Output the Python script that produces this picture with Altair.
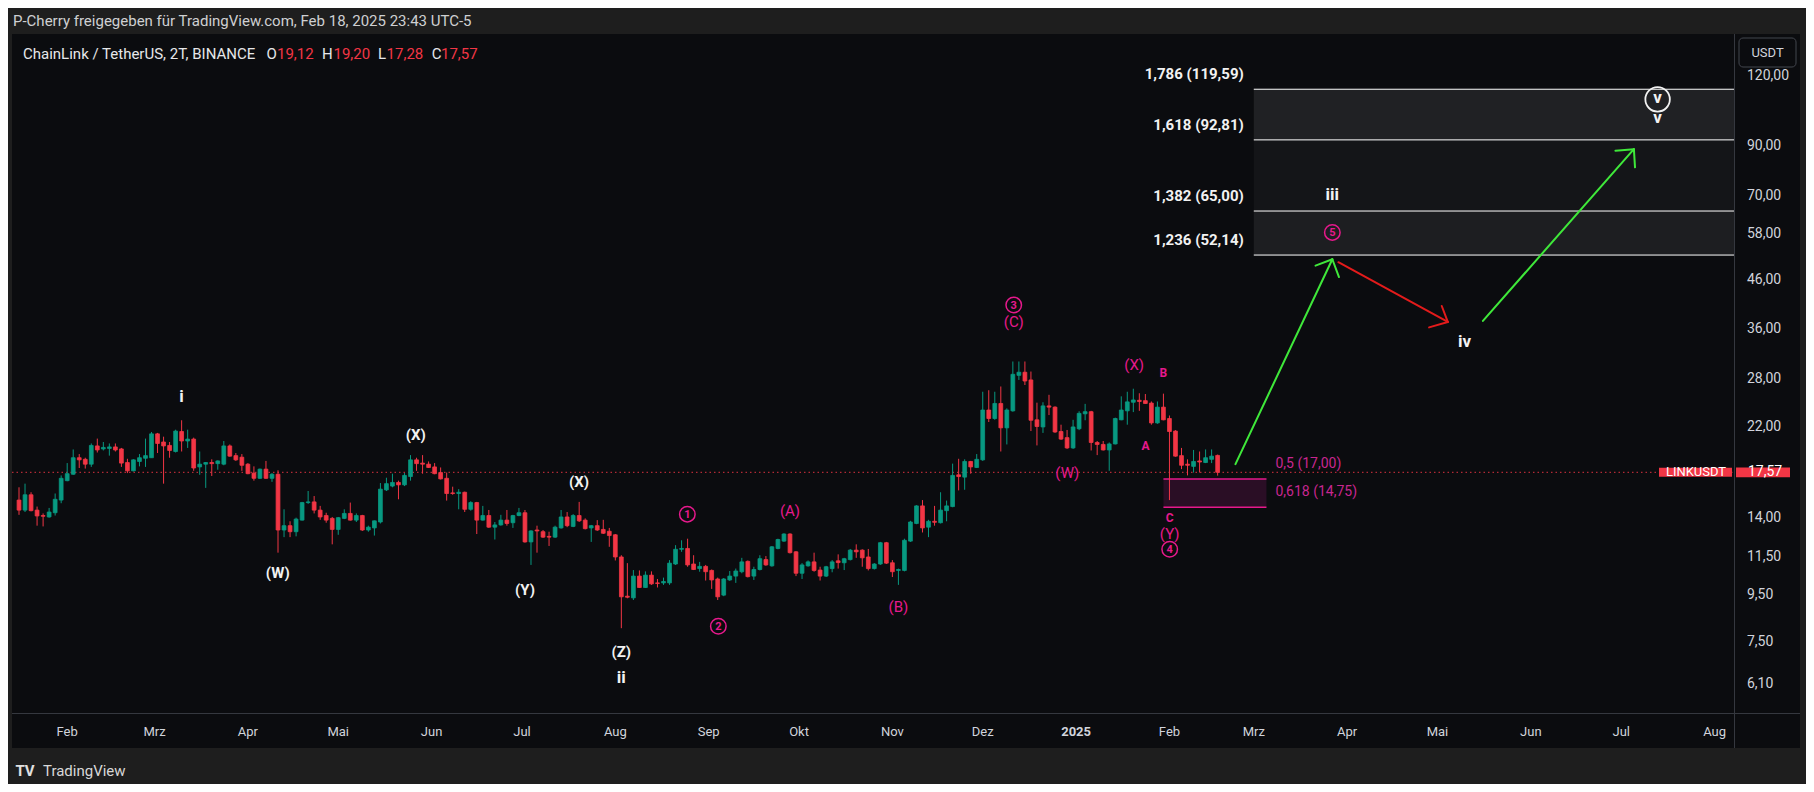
import altair as alt
import pandas as pd

# ---------------- candle data: ChainLink / TetherUS, 2-day bars ----------------
first_bar = "2024-01-16"
opens = [15.29, 14.54, 15.70, 14.54, 14.15, 14.05, 14.35, 15.29, 16.85, 17.40,
         18.90, 18.75, 18.30, 20.05, 19.75, 19.80, 19.95, 19.75, 18.45, 17.70,
         18.55, 18.85, 18.90, 21.30, 20.45, 20.10, 19.50, 21.55, 20.55, 20.75,
         18.05, 18.30, 18.45, 18.35, 18.30, 20.05, 19.10, 18.95, 18.30, 17.50,
         17.05, 17.85, 17.05, 17.40, 13.16, 13.45, 13.05, 13.83, 15.10, 15.15,
         14.54, 14.15, 13.95, 13.20, 13.95, 14.30, 13.83, 14.15, 13.16, 13.30,
         13.70, 16.09, 16.40, 16.70, 16.50, 17.20, 18.70, 18.40, 18.30, 18.05,
         17.55, 17.05, 15.85, 15.80, 15.90, 14.60, 15.10, 13.83, 14.15, 13.35,
         13.50, 13.83, 13.65, 14.15, 14.35, 12.40, 13.16, 13.05, 12.75, 12.70,
         13.30, 14.05, 13.40, 14.15, 13.83, 13.30, 13.45, 13.20, 13.08, 12.85,
         11.50, 9.45, 9.37, 10.45, 9.87, 10.50, 10.10, 10.10, 10.10, 11.10,
         11.95, 12.00, 11.10, 10.85, 10.97, 10.75, 10.30, 9.50, 10.25, 10.45,
         10.68, 11.25, 10.45, 10.80, 11.35, 11.00, 12.00, 12.45, 12.90, 11.80,
         10.60, 11.00, 11.22, 10.77, 10.45, 10.85, 11.28, 11.17, 11.35, 11.90,
         11.90, 11.50, 10.85, 11.10, 12.35, 11.17, 10.75, 10.75, 12.45, 13.60,
         14.85, 13.35, 13.75, 13.65, 14.50, 14.80, 17.35, 17.15, 18.55, 18.00,
         18.70, 24.00, 23.00, 24.80, 21.95, 23.90, 28.55, 29.00, 27.90, 22.85,
         22.05, 24.50, 24.35, 21.55, 20.90, 19.85, 21.85, 23.55, 23.80, 20.40,
         20.20, 19.65, 20.25, 22.85, 23.90, 24.95, 25.20, 25.15, 24.85, 22.50,
         24.35, 23.00, 21.60, 19.10, 18.30, 18.10, 18.60, 18.45, 18.75, 19.12]
highs = [16.30, 16.60, 15.90, 14.80, 14.30, 14.70, 15.80, 17.30, 18.40, 19.70,
         19.25, 18.90, 20.30, 20.80, 20.45, 20.30, 20.30, 19.85, 18.80, 18.75,
         19.25, 20.80, 21.50, 21.40, 21.00, 20.45, 21.75, 22.80, 21.75, 20.90,
         19.50, 18.50, 18.75, 18.65, 20.55, 20.20, 19.35, 19.25, 18.40, 18.10,
         17.90, 18.60, 17.50, 17.75, 14.60, 13.75, 14.00, 15.15, 16.00, 15.60,
         14.85, 14.35, 14.05, 14.05, 14.60, 15.10, 14.30, 14.20, 13.45, 13.80,
         16.65, 17.10, 17.45, 16.85, 17.50, 19.15, 18.90, 19.15, 18.55, 18.40,
         18.00, 17.55, 16.35, 16.15, 15.95, 15.20, 15.15, 14.85, 14.55, 13.70,
         14.20, 14.55, 14.20, 14.70, 14.55, 13.15, 13.45, 13.16, 13.05, 13.45,
         14.55, 14.40, 14.25, 15.15, 13.95, 13.50, 13.83, 13.85, 13.30, 12.90,
         11.60, 11.15, 10.77, 10.75, 10.70, 10.70, 10.30, 10.37, 11.32, 12.20,
         12.50, 12.60, 11.60, 11.22, 11.05, 10.80, 10.37, 10.35, 10.72, 10.85,
         11.45, 11.30, 10.95, 11.60, 11.55, 12.15, 12.60, 12.95, 12.95, 11.85,
         11.15, 11.30, 11.75, 10.95, 11.00, 11.32, 11.65, 11.45, 11.97, 12.25,
         11.95, 11.97, 11.15, 12.40, 12.40, 11.32, 10.85, 12.60, 13.78, 14.90,
         15.29, 13.85, 14.85, 15.90, 15.25, 18.35, 18.80, 18.75, 18.60, 19.25,
         26.30, 26.50, 26.30, 27.00, 24.20, 30.60, 30.60, 30.60, 29.10, 24.90,
         24.95, 25.90, 24.45, 22.30, 21.72, 22.85, 23.85, 24.75, 23.90, 20.55,
         20.55, 20.40, 23.10, 25.70, 26.30, 26.70, 26.10, 26.00, 25.05, 25.05,
         26.05, 23.35, 21.70, 19.85, 18.75, 19.65, 19.50, 19.70, 19.70, 19.20]
lows = [14.20, 14.40, 14.45, 13.45, 13.40, 14.00, 14.15, 15.05, 16.80, 17.35,
        17.95, 17.90, 18.05, 19.40, 19.60, 19.10, 19.50, 18.05, 17.50, 17.65,
        18.10, 18.05, 18.90, 19.35, 16.60, 18.90, 19.40, 19.50, 19.85, 17.70,
        17.35, 16.25, 17.25, 17.80, 18.20, 19.00, 18.60, 17.70, 17.40, 16.85,
        17.00, 17.00, 16.75, 11.75, 12.70, 12.70, 12.75, 13.80, 15.00, 14.30,
        13.85, 13.65, 12.25, 12.85, 13.90, 13.80, 13.70, 13.10, 13.05, 12.80,
        13.60, 16.00, 16.30, 15.35, 16.40, 16.85, 17.70, 17.45, 17.95, 17.40,
        16.95, 15.25, 15.70, 14.60, 14.40, 14.50, 12.90, 13.80, 13.30, 12.55,
        13.45, 13.45, 13.30, 14.10, 12.35, 11.05, 11.75, 12.65, 12.15, 12.65,
        13.25, 13.35, 13.35, 13.70, 13.20, 12.40, 13.10, 12.90, 12.10, 11.30,
        8.05, 9.35, 9.27, 9.85, 9.85, 10.00, 9.87, 10.00, 10.00, 11.05,
        11.80, 10.95, 10.77, 10.68, 10.22, 9.80, 9.27, 9.45, 10.20, 10.10,
        10.60, 10.38, 10.25, 10.75, 11.00, 10.95, 11.95, 12.40, 11.70, 10.45,
        10.30, 10.95, 10.68, 10.22, 10.40, 10.65, 10.85, 10.77, 11.30, 11.45,
        10.95, 10.75, 10.80, 11.05, 11.10, 10.40, 10.00, 10.70, 12.40, 13.55,
        13.00, 12.70, 13.45, 13.60, 13.75, 14.75, 16.05, 16.10, 17.45, 17.95,
        18.60, 22.60, 22.85, 19.50, 20.20, 23.80, 27.90, 27.20, 21.60, 20.10,
        21.40, 23.40, 21.40, 20.66, 19.75, 19.75, 21.70, 22.80, 19.60, 19.15,
        19.60, 17.70, 20.20, 22.80, 22.30, 23.75, 23.90, 24.75, 22.30, 22.40,
        22.80, 15.29, 19.00, 17.85, 17.30, 17.55, 17.55, 18.40, 18.40, 17.28]
closes = [14.54, 15.70, 14.50, 14.12, 14.10, 14.40, 15.35, 17.05, 17.45, 18.90,
          18.70, 18.30, 20.10, 19.65, 19.90, 19.95, 19.65, 18.40, 17.70, 18.70,
          18.90, 19.10, 21.30, 20.30, 20.05, 19.60, 21.60, 20.55, 20.75, 17.95,
          18.30, 18.45, 18.35, 18.60, 20.05, 19.05, 18.70, 18.20, 17.45, 17.05,
          17.85, 17.05, 17.40, 13.16, 13.45, 13.05, 13.90, 15.10, 15.15, 14.54,
          14.05, 13.83, 13.20, 14.00, 14.30, 13.83, 14.15, 13.16, 13.35, 13.78,
          16.15, 16.60, 16.70, 16.50, 17.30, 18.70, 18.35, 18.30, 18.00, 17.45,
          17.00, 15.80, 15.80, 15.90, 14.60, 15.10, 13.83, 14.15, 13.35, 13.50,
          13.83, 13.60, 14.15, 14.35, 12.40, 13.10, 13.10, 12.70, 12.70, 13.35,
          14.05, 13.45, 14.15, 13.78, 13.25, 13.45, 13.16, 12.95, 12.80, 11.50,
          9.42, 9.40, 10.45, 9.87, 10.50, 10.05, 10.07, 10.17, 11.15, 11.95,
          12.00, 11.05, 10.80, 10.97, 10.68, 10.25, 9.42, 10.30, 10.45, 10.72,
          11.22, 10.42, 10.80, 11.40, 11.05, 12.10, 12.55, 12.90, 11.75, 10.60,
          11.05, 11.22, 10.75, 10.45, 10.95, 11.22, 11.18, 11.40, 11.90, 11.80,
          11.45, 10.85, 11.10, 12.35, 11.15, 10.68, 10.80, 12.50, 13.70, 14.85,
          13.30, 13.75, 13.68, 14.54, 14.85, 17.30, 17.20, 18.55, 18.05, 18.75,
          24.00, 23.00, 24.80, 21.95, 24.00, 28.70, 29.00, 27.75, 22.80, 22.10,
          24.50, 24.35, 21.50, 20.75, 19.85, 22.05, 23.60, 23.80, 20.40, 20.20,
          19.65, 20.25, 23.00, 24.00, 25.00, 25.24, 25.05, 24.80, 22.50, 24.35,
          22.85, 21.55, 19.05, 18.20, 18.20, 18.55, 18.50, 18.90, 19.05, 17.57]

# ---------------- axis ticks ----------------
month_ticks = ["2024-02-01", "2024-03-01", "2024-04-01", "2024-05-01", "2024-06-01",
               "2024-07-01", "2024-08-01", "2024-09-01", "2024-10-01", "2024-11-01",
               "2024-12-01", "2025-01-01", "2025-02-01", "2025-03-01", "2025-04-01",
               "2025-05-01", "2025-06-01", "2025-07-01", "2025-08-01"]
month_names = ["Jan", "Feb", "Mrz", "Apr", "Mai", "Jun", "Jul", "Aug", "Sep", "Okt", "Nov", "Dez"]
price_ticks = [120, 90, 70, 58, 46, 36, 28, 22, 14, 11.5, 9.5, 7.5, 6.1]
x_domain = [(2024, 1, 15, 8), (2025, 8, 5, 19)]
y_domain = [5.265, 157.7]

# ---------------- Elliott wave labels ----------------
white_text = ["i", "(W)", "(X)", "(Y)", "(X)", "(Z)", "ii", "iii", "iv", "v"]
white_dates = ["2024-03-09T23:00", "2024-04-10T22:00", "2024-05-26T17:00", "2024-07-02T00:00",
               "2024-07-19T22:00", "2024-08-03T00:00", "2024-08-03T00:00", "2025-03-27T02:00",
               "2025-05-10T00:00", "2025-07-13T02:00"]
white_prices = [25.6, 10.6, 21.2, 9.75, 16.7, 7.13, 6.27, 70.5, 33.8, 103.4]
white_roman = [True, False, False, False, False, False, True, True, True, True]

pink_text = ["(A)", "(B)", "(C)", "(W)", "(X)", "A", "B", "C", "(Y)"]
pink_dates = ["2024-09-28T00:00", "2024-11-03T00:00", "2024-12-11T07:00", "2024-12-29T02:00",
              "2025-01-20T07:00", "2025-01-24T02:00", "2025-01-30T00:00", "2025-02-01T02:00",
              "2025-02-01T02:00"]
pink_prices = [14.50, 8.94, 37.3, 17.53, 30.05, 20.05, 28.9, 14.0, 12.93]
pink_small = [False, False, False, False, False, True, True, True, False]

circled_text = ["1", "2", "3", "4", "5"]
circled_dates = ["2024-08-24T22:00", "2024-09-04T05:00", "2024-12-11T07:00",
                 "2025-02-01T02:00", "2025-03-27T02:00"]
circled_prices = [14.25, 8.13, 40.6, 11.95, 58.4]

major_v_text = ["v"]
major_v_dates = ["2025-07-13T02:00"]
major_v_prices = [113.7]

# ---------------- Fibonacci levels ----------------
fib_start = "2025-03-01"
fib_prices = [119.59, 92.81, 65.00, 52.14]
fib_text = ["1,786 (119,59)", "1,618 (92,81)", "1,382 (65,00)", "1,236 (52,14)"]
zone_names = ["z1", "z2", "z3"]

retr_start = "2025-01-30"
retr_end = "2025-03-05T05:00"
retr_prices = [17.00, 14.75]
retr_text = ["0,5 (17,00)", "0,618 (14,75)"]

# ---------------- projected path arrows ----------------
arrow_kind = ["up", "down", "up"]
arrow_start_dates = ["2025-02-22T22:00", "2025-03-29T02:00", "2025-05-16T02:00"]
arrow_start_prices = [18.3, 50.3, 37.5]
arrow_tip_dates = ["2025-03-27T02:00", "2025-05-04T10:00", "2025-07-05T05:00"]
arrow_tip_prices = [51.06, 37.3, 88.6]
head_a_dates = ["2025-03-21T12:00", "2025-04-28T05:00", "2025-06-29T02:00"]
head_a_prices = [49.45, 36.3, 87.9]
head_b_dates = ["2025-03-29T07:00", "2025-05-02T10:00", "2025-07-05T14:00"]
head_b_prices = [46.7, 40.4, 80.9]

# ---------------- style ----------------
W, H = 1722, 679
OUTER = "#1e1e1e"
PANEL = "#0b0c0f"
FRAME = "#35383f"
GREEN = "#089981"
RED = "#f23645"
MAGENTA = "#e6198c"
PINK_TXT = "#c8268f"
TXT = "#d1d4dc"
WHITE = "#f2f2f2"
ARROW_GREEN = "#3fe83a"
ARROW_RED = "#e31b1b"
FONT = "Roboto"


def dt(s):
    return pd.to_datetime(s)


def fmt(v):
    return ("%.2f" % v).replace(".", ",")


x_scale = alt.Scale(domain=[alt.DateTime(year=a, month=b, date=c, hours=d) for a, b, c, d in x_domain],
                    nice=False)
y_scale = alt.Scale(type="log", domain=y_domain, nice=False, zero=False)


def X(field):
    return alt.X(field, type="temporal", scale=x_scale, axis=None, title=None)


def Y(field):
    return alt.Y(field, type="quantitative", scale=y_scale, axis=None, title=None)


one = pd.DataFrame({"k": [0]})

# panel background and frame
panel = alt.Chart(one).mark_rect(fill=PANEL).encode(
    x=alt.value(0), x2=alt.value(1788), y=alt.value(0), y2=alt.value(714))
frame_h = alt.Chart(one).mark_rule(color=FRAME, strokeWidth=1).encode(
    x=alt.value(0), x2=alt.value(1788), y=alt.value(679.5))
frame_v = alt.Chart(one).mark_rule(color=FRAME, strokeWidth=1).encode(
    x=alt.value(1722.5), y=alt.value(0), y2=alt.value(714))

# axis labels drawn through the scales
mt = pd.DataFrame({"d": dt(month_ticks)})
mt["t"] = [str(d.year) if d.month == 1 else month_names[d.month - 1] for d in mt["d"]]
mt["jan"] = [d.month == 1 for d in mt["d"]]
month_lbl = alt.Chart(mt[~mt.jan]).mark_text(baseline="middle", color=TXT, font=FONT, fontSize=13).encode(
    x=X("d:T"), y=alt.value(697.7), text="t:N")
year_lbl = alt.Chart(mt[mt.jan]).mark_text(baseline="middle", color=TXT, font=FONT, fontSize=13,
                                           fontWeight="bold").encode(
    x=X("d:T"), y=alt.value(697.7), text="t:N")
pt = pd.DataFrame({"p": price_ticks, "t": [fmt(v) for v in price_ticks]})
price_lbl_top = alt.Chart(pt.iloc[:1]).mark_text(align="left", baseline="middle", color=TXT, font=FONT,
                                                 fontSize=14, dy=-13).encode(
    x=alt.value(1735), y=Y("p:Q"), text="t:N")
price_lbl = alt.Chart(pt.iloc[1:]).mark_text(align="left", baseline="middle", color=TXT, font=FONT,
                                             fontSize=14).encode(
    x=alt.value(1735), y=Y("p:Q"), text="t:N")

# fib zones
zones = pd.DataFrame({"zone": zone_names, "top": fib_prices[:3], "bot": fib_prices[1:],
                      "start": dt([fib_start] * 3)})
zone_rects = alt.Chart(zones).mark_rect().encode(
    x=X("start:T"), x2=alt.value(W), y=Y("top:Q"), y2="bot:Q",
    color=alt.Color("zone:N", scale=alt.Scale(domain=zone_names, range=["#202124", "#141518", "#1d1e21"]),
                    legend=None))
fibs = pd.DataFrame({"p": fib_prices, "t": fib_text, "start": dt([fib_start] * 4)})
fib_lines = alt.Chart(fibs).mark_rule(color="#ffffff", strokeWidth=1).encode(
    x=X("start:T"), x2=alt.value(W), y=Y("p:Q"))
fib_labels = alt.Chart(fibs).mark_text(align="right", baseline="middle", dx=-10, dy=-15, color=WHITE,
                                       font=FONT, fontSize=15, fontWeight="bold").encode(
    x=X("start:T"), y=Y("p:Q"), text="t:N")

# retracement box
retr = pd.DataFrame({"p": retr_prices, "t": retr_text, "s": dt([retr_start] * 2), "e": dt([retr_end] * 2)})
retr_box = alt.Chart(retr.iloc[:1].assign(p2=retr_prices[1])).mark_rect(fill="#2a0e25").encode(
    x=X("s:T"), x2="e:T", y=Y("p:Q"), y2="p2:Q")
retr_lines = alt.Chart(retr).mark_rule(color=MAGENTA, strokeWidth=1.5).encode(
    x=X("s:T"), x2="e:T", y=Y("p:Q"))
retr_labels = alt.Chart(retr).mark_text(align="left", baseline="middle", dx=9, dy=-15, color=PINK_TXT,
                                        font=FONT, fontSize=14).encode(
    x=X("e:T"), y=Y("p:Q"), text="t:N")

# current price dotted line
last = pd.DataFrame({"p": [closes[-1]], "t": [fmt(closes[-1])], "n": ["LINKUSDT"]})
price_line = alt.Chart(last).mark_rule(color=RED, strokeDash=[1.5, 3], strokeWidth=1, opacity=0.9).encode(
    x=alt.value(0), x2=alt.value(W), y=Y("p:Q"))

# candles
cdf = pd.DataFrame({"date": pd.date_range(first_bar, periods=len(opens), freq="2D"),
                    "o": opens, "h": highs, "l": lows, "c": closes})
updown = alt.condition("datum.c >= datum.o", alt.value(GREEN), alt.value(RED))
wicks = alt.Chart(cdf).mark_rule(strokeWidth=1).encode(
    x=X("date:T"), y=Y("l:Q"), y2="h:Q", color=updown)
bodies = alt.Chart(cdf).mark_bar(size=3.8, strokeWidth=0.8).encode(
    x=X("date:T"), y=Y("o:Q"), y2="c:Q", color=updown, stroke=updown)

# arrows (main shaft + two head strokes each)
rows = []
for i in range(len(arrow_kind)):
    rows.append((arrow_start_dates[i], arrow_start_prices[i], arrow_tip_dates[i], arrow_tip_prices[i], arrow_kind[i]))
    rows.append((arrow_tip_dates[i], arrow_tip_prices[i], head_a_dates[i], head_a_prices[i], arrow_kind[i]))
    rows.append((arrow_tip_dates[i], arrow_tip_prices[i], head_b_dates[i], head_b_prices[i], arrow_kind[i]))
seg = pd.DataFrame(rows, columns=["d1", "p1", "d2", "p2", "kind"])
seg["d1"] = dt(seg["d1"])
seg["d2"] = dt(seg["d2"])
arrows_up = alt.Chart(seg[seg.kind == "up"]).mark_rule(strokeWidth=2, strokeCap="round", color=ARROW_GREEN).encode(
    x=X("d1:T"), y=Y("p1:Q"), x2="d2:T", y2="p2:Q")
arrows_down = alt.Chart(seg[seg.kind == "down"]).mark_rule(strokeWidth=2, strokeCap="round", color=ARROW_RED).encode(
    x=X("d1:T"), y=Y("p1:Q"), x2="d2:T", y2="p2:Q")

# wave labels
wl = pd.DataFrame({"t": white_text, "d": dt(white_dates), "p": white_prices, "roman": white_roman})
white_roman_lbl = alt.Chart(wl[wl.roman]).mark_text(baseline="middle", color=WHITE, font=FONT,
                                                    fontSize=17, fontWeight="bold").encode(
    x=X("d:T"), y=Y("p:Q"), text="t:N")
white_par_lbl = alt.Chart(wl[~wl.roman]).mark_text(baseline="middle", color=WHITE, font=FONT,
                                                   fontSize=15, fontWeight="bold").encode(
    x=X("d:T"), y=Y("p:Q"), text="t:N")
pl = pd.DataFrame({"t": pink_text, "d": dt(pink_dates), "p": pink_prices, "small": pink_small})
pink_par_lbl = alt.Chart(pl[~pl.small]).mark_text(baseline="middle", color=MAGENTA, font=FONT,
                                                  fontSize=15).encode(
    x=X("d:T"), y=Y("p:Q"), text="t:N")
pink_small_lbl = alt.Chart(pl[pl.small]).mark_text(baseline="middle", color=MAGENTA, font=FONT,
                                                   fontSize=12, fontWeight="bold").encode(
    x=X("d:T"), y=Y("p:Q"), text="t:N")
cl = pd.DataFrame({"t": circled_text, "d": dt(circled_dates), "p": circled_prices})
circ = alt.Chart(cl).mark_point(shape="circle", filled=False, size=240, strokeWidth=1.5, color=MAGENTA,
                                opacity=1).encode(x=X("d:T"), y=Y("p:Q"))
circ_txt = alt.Chart(cl).mark_text(baseline="middle", color=MAGENTA, font=FONT, fontSize=11,
                                   fontWeight="bold", dy=0.5).encode(x=X("d:T"), y=Y("p:Q"), text="t:N")
mv = pd.DataFrame({"t": major_v_text, "d": dt(major_v_dates), "p": major_v_prices})
mv_circ = alt.Chart(mv).mark_point(shape="circle", filled=False, size=600, strokeWidth=1.8, color=WHITE,
                                   opacity=1).encode(x=X("d:T"), y=Y("p:Q"))
mv_txt = alt.Chart(mv).mark_text(baseline="middle", color=WHITE, font=FONT, fontSize=17,
                                 fontWeight="bold", dy=-1).encode(x=X("d:T"), y=Y("p:Q"), text="t:N")

# price tags
tag_link = alt.Chart(last).mark_point(shape="M-1,-0.125L1,-0.125L1,0.125L-1,0.125Z", size=73 * 73,
                                      filled=True, color=RED, opacity=1).encode(
    x=alt.value(1683.5), y=Y("p:Q"))
tag_link_txt = alt.Chart(last).mark_text(baseline="middle", color="#ffffff", font=FONT,
                                         fontSize=13).encode(x=alt.value(1684), y=Y("p:Q"), text="n:N")
tag_px = alt.Chart(last).mark_point(shape="M-1,-0.18L1,-0.18L1,0.18L-1,0.18Z", size=54 * 54,
                                    filled=True, color=RED, opacity=1).encode(
    x=alt.value(1751), y=Y("p:Q"))
tag_px_txt = alt.Chart(last).mark_text(align="left", baseline="middle", color="#ffffff", font=FONT,
                                       fontSize=14).encode(x=alt.value(1736), y=Y("p:Q"), text="t:N")


# header texts
def txt(s, x, y, color=TXT, size=15, weight="normal", align="left"):
    return alt.Chart(pd.DataFrame({"t": [s]})).mark_text(
        align=align, baseline="middle", color=color, font=FONT, fontSize=size, fontWeight=weight).encode(
        x=alt.value(x), y=alt.value(y), text="t:N")


header = [
    txt("P-Cherry freigegeben für TradingView.com, Feb 18, 2025 23:43 UTC-5", 1, -13.5, color="#cfd0d2"),
    txt("ChainLink / TetherUS, 2T, BINANCE", 11, 19.5, color="#e6e7ea"),
    txt("O", 254.5, 19.5, color="#e6e7ea"), txt(fmt(opens[-1]), 265, 19.5, color=RED),
    txt("H", 310, 19.5, color="#e6e7ea"), txt(fmt(highs[-1]), 321.5, 19.5, color=RED),
    txt("L", 366, 19.5, color="#e6e7ea"), txt(fmt(lows[-1]), 374.6, 19.5, color=RED),
    txt("C", 419.7, 19.5, color="#e6e7ea"), txt(fmt(closes[-1]), 429, 19.5, color=RED),
    txt("TradingView", 31, 736.5, color="#d8d8d8", size=15),
    txt("TV", 13, 736.5, color="#e0e0e0", size=15, weight="bold", align="center"),
]
usdt_box = alt.Chart(one).mark_rect(fill=PANEL, stroke="#43464e", strokeWidth=1, cornerRadius=4).encode(
    x=alt.value(1727), x2=alt.value(1784), y=alt.value(4), y2=alt.value(33))
usdt_txt = txt("USDT", 1755.5, 19, color=TXT, size=13, align="center")

layers = [panel, zone_rects, fib_lines, fib_labels, retr_box, retr_lines, retr_labels, price_line,
          wicks, bodies, arrows_up, arrows_down, white_roman_lbl, white_par_lbl, pink_par_lbl,
          pink_small_lbl, circ, circ_txt, mv_circ, mv_txt, frame_h, frame_v,
          month_lbl, year_lbl, price_lbl_top, price_lbl,
          tag_link, tag_link_txt, tag_px, tag_px_txt, usdt_box, usdt_txt] + header

chart = alt.layer(*layers).properties(
    width=W, height=H,
    padding={"left": 4, "top": 26, "right": 72, "bottom": 71},
    autosize=alt.AutoSizeParams(type="none"),
    background=OUTER,
).configure_view(stroke=None)

chart.save("out.html", embed_options={"renderer": "svg", "actions": False})
